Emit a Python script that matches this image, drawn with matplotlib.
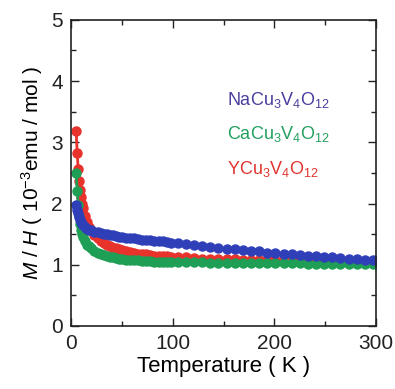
import matplotlib
matplotlib.use("Agg")
import matplotlib.pyplot as plt
from matplotlib.ticker import MultipleLocator

plt.rcParams['font.family'] = ['Liberation Sans', 'DejaVu Sans']
plt.rcParams['mathtext.fontset'] = 'custom'
plt.rcParams['mathtext.rm'] = 'Liberation Sans'
plt.rcParams['mathtext.it'] = 'Liberation Sans:italic'
plt.rcParams['mathtext.default'] = 'regular'

# temperature points (K): dense below 100 K, sparse above
temp = [5, 6, 7, 8, 9, 10, 11, 12, 14, 16, 18, 20, 23, 26, 29, 32, 35, 38,
        41, 44, 47, 50, 54, 58, 62, 66, 70, 74, 78, 82, 86, 90, 94, 98,
        105, 113, 121, 129, 137, 145, 153, 161, 169, 177, 185, 193, 201, 209,
        217, 225, 233, 241, 249, 257, 265, 273, 281, 289, 297]

# M/H (10^-3 emu/mol)
na_mh = [1.98, 1.90, 1.84, 1.78, 1.73, 1.70, 1.67, 1.65, 1.62, 1.59, 1.57, 1.56,
         1.54, 1.53, 1.52, 1.51, 1.50, 1.49, 1.48, 1.47, 1.46, 1.45, 1.44, 1.44,
         1.43, 1.42, 1.41, 1.40, 1.40, 1.39, 1.38, 1.38, 1.37, 1.36,
         1.35, 1.34, 1.32, 1.31, 1.29, 1.28, 1.26, 1.25, 1.24, 1.23, 1.22, 1.20,
         1.19, 1.18, 1.17, 1.16, 1.15, 1.14, 1.13, 1.12, 1.11, 1.10, 1.09, 1.08, 1.07]
ca_mh = [2.50, 2.20, 1.98, 1.80, 1.66, 1.57, 1.50, 1.45, 1.38, 1.33, 1.30, 1.27,
         1.23, 1.20, 1.18, 1.16, 1.14, 1.13, 1.12, 1.11, 1.10, 1.09, 1.08, 1.08,
         1.07, 1.07, 1.06, 1.06, 1.06, 1.05, 1.05, 1.05, 1.05, 1.04,
         1.04, 1.04, 1.04, 1.04, 1.03, 1.03, 1.03, 1.03, 1.03, 1.03, 1.03, 1.03,
         1.03, 1.03, 1.03, 1.03, 1.02, 1.02, 1.02, 1.02, 1.02, 1.02, 1.02, 1.02, 1.02]
y_mh = [3.18, 2.82, 2.56, 2.37, 2.22, 2.10, 2.00, 1.92, 1.79, 1.70, 1.62, 1.56,
        1.49, 1.44, 1.39, 1.36, 1.33, 1.30, 1.28, 1.27, 1.25, 1.24, 1.22, 1.21,
        1.19, 1.18, 1.17, 1.17, 1.16, 1.15, 1.15, 1.14, 1.14, 1.13,
        1.12, 1.12, 1.11, 1.10, 1.10, 1.09, 1.09, 1.09, 1.08, 1.08, 1.08, 1.08,
        1.07, 1.07, 1.07, 1.07, 1.07, 1.06, 1.06, 1.06, 1.06, 1.06, 1.05, 1.05, 1.05]

names = [r"NaCu$_3$V$_4$O$_{12}$", r"CaCu$_3$V$_4$O$_{12}$", r"YCu$_3$V$_4$O$_{12}$"]
colors = ['#2f3fb8', '#1f9e55', '#e8322c']
text_colors = ['#4a3f9e', '#22a060', '#e03530']

fig = plt.figure(figsize=(3.95, 3.89), dpi=100)
ax = fig.add_axes([0.180, 0.162, 0.772, 0.787])

# draw Y first, then Ca, then Na on top
ax.plot(temp, y_mh, '-o', color=colors[2], ms=6.5, lw=2)
ax.plot(temp, ca_mh, '-o', color=colors[1], ms=6.5, lw=2)
ax.plot(temp, na_mh, '-o', color=colors[0], ms=6.5, lw=2)

for i in range(3):
    ax.text(153, 3.69 - 0.56 * i, names[i], color=text_colors[i], fontsize=13,
            va='center', ha='left')

ax.set_xlim(0, 300)
ax.set_ylim(0, 5)
ax.xaxis.set_major_locator(MultipleLocator(100))
ax.xaxis.set_minor_locator(MultipleLocator(50))
ax.yaxis.set_major_locator(MultipleLocator(1))
ax.yaxis.set_minor_locator(MultipleLocator(0.5))
ax.tick_params(which='both', direction='in', top=True, right=True, width=1.0,
               labelsize=15, colors='#222222')
ax.tick_params(which='major', length=6, pad=6)
ax.tick_params(which='minor', length=3.5)
for s in ax.spines.values():
    s.set_linewidth(1.2)
    s.set_color('#222222')

ax.set_xlabel("Temperature ( K )", fontsize=16, labelpad=2)
ax.set_ylabel(r"$\mathit{M}$ / $\mathit{H}$ ( 10$^{-3}$emu / mol )", fontsize=15,
              labelpad=4)

fig.savefig("out.png", dpi=100)
